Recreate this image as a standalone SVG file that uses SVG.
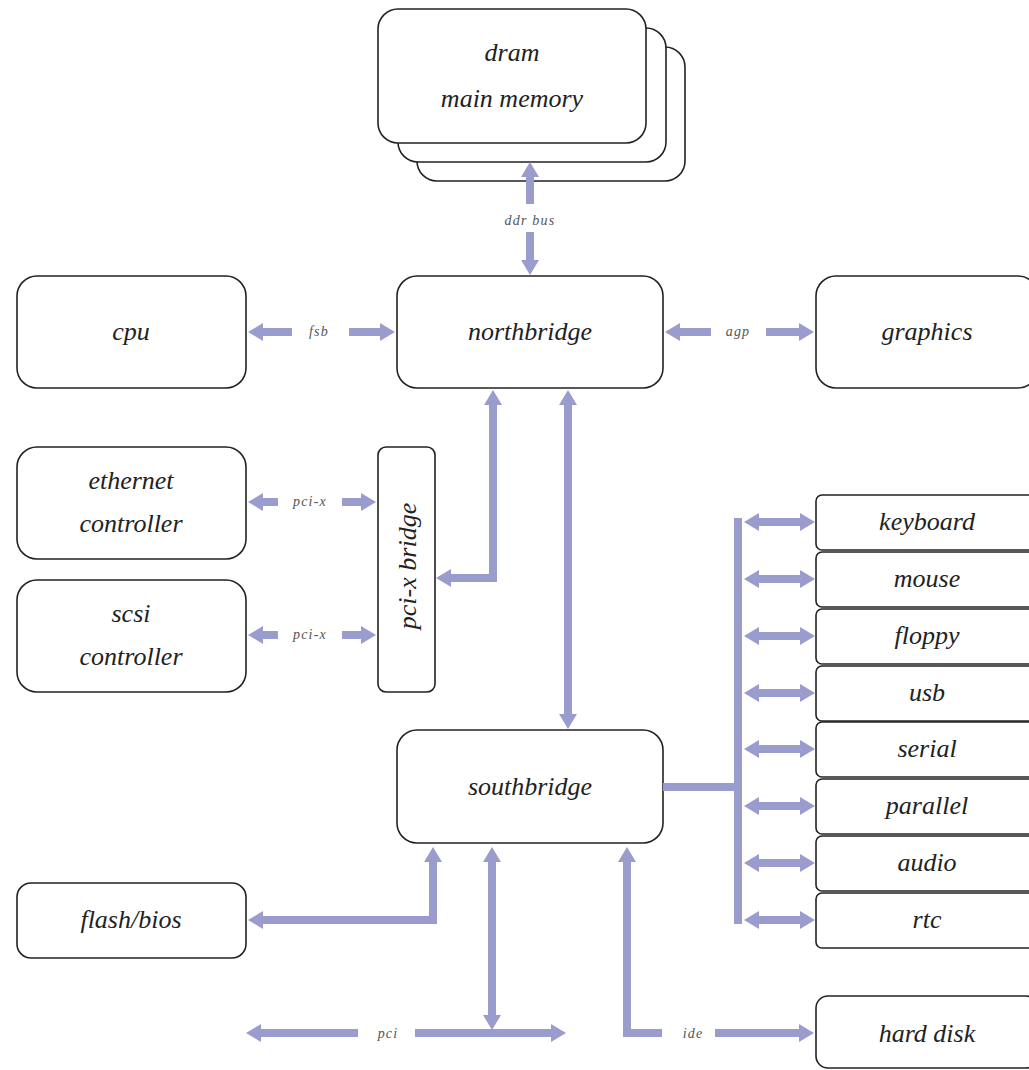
<svg xmlns="http://www.w3.org/2000/svg" width="1029" height="1070" viewBox="0 0 1029 1070">
<style>
.box{fill:#fff;stroke:#222;stroke-width:1.6}
.lbl{font-family:"Liberation Serif",serif;font-style:italic;font-size:26px;fill:#222;text-anchor:middle}
.sm{font-family:"Liberation Serif",serif;font-style:italic;font-size:14px;fill:#555;text-anchor:middle;letter-spacing:1.2px}
.bus{fill:none;stroke:#9a9ccd;stroke-width:8;stroke-linejoin:miter}
.a2{marker-start:url(#ah);marker-end:url(#ah)}
.ae{marker-end:url(#ah)}
</style>
<defs>
<marker id="ah" viewBox="0 -9 15 18" refX="1" refY="0" markerWidth="15" markerHeight="18" markerUnits="userSpaceOnUse" orient="auto-start-reverse">
<path d="M0,-9 L15,0 L0,9 Z" fill="#9a9ccd"/>
</marker>
</defs>
<rect width="1029" height="1070" fill="#fff"/>

<g id="dram">
<rect class="box" x="417" y="47" width="268" height="134" rx="20"/>
<rect class="box" x="398" y="28" width="268" height="134" rx="20"/>
<rect class="box" x="378" y="9" width="268" height="134" rx="20"/>
<text class="lbl" x="512" y="61">dram</text>
<text class="lbl" x="512" y="107">main memory</text>
</g>
<g id="cpu"><rect class="box" x="17" y="276" width="229" height="112" rx="20"/><text class="lbl" x="131" y="340">cpu</text></g>
<g id="northbridge"><rect class="box" x="397" y="276" width="266" height="112" rx="20"/><text class="lbl" x="530" y="340">northbridge</text></g>
<g id="graphics"><rect class="box" x="816" y="276" width="222" height="112" rx="20"/><text class="lbl" x="927" y="340">graphics</text></g>
<g id="ethernet"><rect class="box" x="17" y="447" width="229" height="112" rx="20"/><text class="lbl" x="131" y="489">ethernet</text><text class="lbl" x="131" y="532">controller</text></g>
<g id="scsi"><rect class="box" x="17" y="580" width="229" height="112" rx="20"/><text class="lbl" x="131" y="622">scsi</text><text class="lbl" x="131" y="665">controller</text></g>
<g id="pcixbridge"><rect class="box" x="378" y="447" width="57" height="245" rx="8"/><text class="lbl" transform="translate(416,566) rotate(-90)">pci-x bridge</text></g>
<g id="southbridge"><rect class="box" x="397" y="730" width="266" height="113" rx="20"/><text class="lbl" x="530" y="795">southbridge</text></g>
<g id="flash"><rect class="box" x="17" y="883" width="229" height="75" rx="14"/><text class="lbl" x="131" y="928">flash/bios</text></g>
<g id="keyboard"><rect class="box" x="816" y="495" width="222" height="55" rx="6"/><text class="lbl" x="927" y="530">keyboard</text></g>
<g id="mouse"><rect class="box" x="816" y="552" width="222" height="55" rx="6"/><text class="lbl" x="927" y="587">mouse</text></g>
<g id="floppy"><rect class="box" x="816" y="609" width="222" height="55" rx="6"/><text class="lbl" x="927" y="644">floppy</text></g>
<g id="usb"><rect class="box" x="816" y="666" width="222" height="55" rx="6"/><text class="lbl" x="927" y="701">usb</text></g>
<g id="serial"><rect class="box" x="816" y="722" width="222" height="55" rx="6"/><text class="lbl" x="927" y="757">serial</text></g>
<g id="parallel"><rect class="box" x="816" y="779" width="222" height="55" rx="6"/><text class="lbl" x="927" y="814">parallel</text></g>
<g id="audio"><rect class="box" x="816" y="836" width="222" height="55" rx="6"/><text class="lbl" x="927" y="871">audio</text></g>
<g id="rtc"><rect class="box" x="816" y="893" width="222" height="55" rx="6"/><text class="lbl" x="927" y="928">rtc</text></g>
<g id="harddisk"><rect class="box" x="816" y="996" width="222" height="72" rx="12"/><text class="lbl" x="927" y="1042">hard disk</text></g>

<g id="connectors">
<line class="bus ae" x1="530" y1="204" x2="530" y2="176"/>
<line class="bus ae" x1="530" y1="232" x2="530" y2="261"/>
<text class="sm" x="530" y="225">ddr bus</text>

<line class="bus ae" x1="292" y1="332" x2="262" y2="332"/>
<line class="bus ae" x1="349" y1="332" x2="381" y2="332"/>
<text class="sm" x="319" y="336">fsb</text>

<line class="bus ae" x1="711" y1="332" x2="679" y2="332"/>
<line class="bus ae" x1="766" y1="332" x2="800" y2="332"/>
<text class="sm" x="738" y="336">agp</text>

<line class="bus ae" x1="278" y1="502" x2="262" y2="502"/>
<line class="bus ae" x1="342" y1="502" x2="362" y2="502"/>
<text class="sm" x="310" y="506">pci-x</text>
<line class="bus ae" x1="278" y1="635" x2="262" y2="635"/>
<line class="bus ae" x1="342" y1="635" x2="362" y2="635"/>
<text class="sm" x="310" y="639">pci-x</text>

<polyline class="bus a2" points="493,404 493,578 450,578"/>
<line class="bus a2" x1="568" y1="404" x2="568" y2="715"/>

<polyline class="bus" points="663,787 742,787"/>
<line class="bus" x1="738" y1="518" x2="738" y2="924"/>
<line class="bus a2" x1="758" y1="522" x2="801" y2="522"/>
<line class="bus a2" x1="758" y1="579" x2="801" y2="579"/>
<line class="bus a2" x1="758" y1="636" x2="801" y2="636"/>
<line class="bus a2" x1="758" y1="693" x2="801" y2="693"/>
<line class="bus a2" x1="758" y1="749" x2="801" y2="749"/>
<line class="bus a2" x1="758" y1="806" x2="801" y2="806"/>
<line class="bus a2" x1="758" y1="863" x2="801" y2="863"/>
<line class="bus a2" x1="758" y1="920" x2="801" y2="920"/>

<polyline class="bus a2" points="433,861 433,920 262,920"/>
<line class="bus a2" x1="492" y1="861" x2="492" y2="1016"/>
<line class="bus ae" x1="358" y1="1033" x2="260" y2="1033"/>
<line class="bus ae" x1="415" y1="1033" x2="552" y2="1033"/>
<text class="sm" x="388" y="1038">pci</text>
<polyline class="bus ae" points="662,1033 627,1033 627,861"/>
<line class="bus ae" x1="715" y1="1033" x2="800" y2="1033"/>
<text class="sm" x="693" y="1038">ide</text>
</g>
</svg>
